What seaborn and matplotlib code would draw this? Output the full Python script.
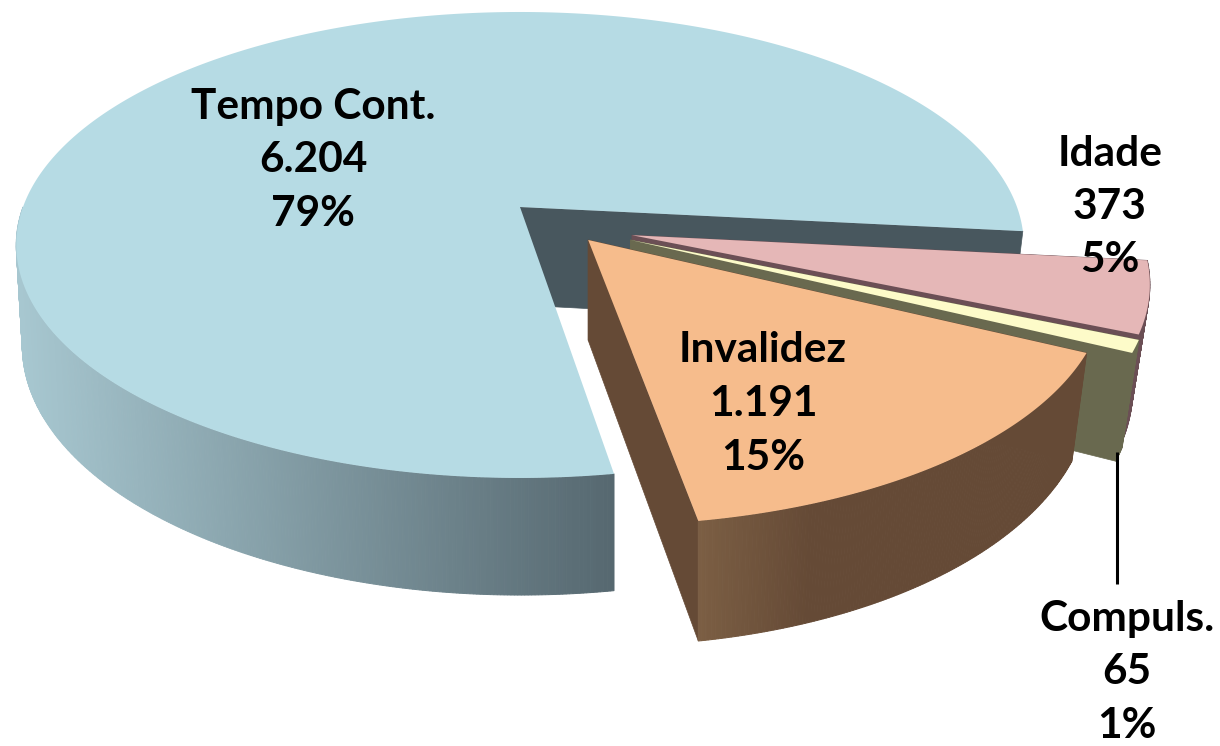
import numpy as np
import matplotlib
matplotlib.use("Agg")
import matplotlib.pyplot as plt
import seaborn as sns
from matplotlib.colors import to_rgb

# data
categories = ["Tempo Cont.", "Invalidez", "Compuls.", "Idade"]
values = [6204, 1191, 65, 373]

# style
top_colors = ["#b6dbe4", "#f6bc8c", "#fdfbc9", "#e5b7b7"]
face_colors = ["#48575e", "#654a36", "#69694f", "#6b4f55"]
wall_left = ["#a8c8d1", "#7c5f44", "#69694f", "#6b4f55"]
wall_right = ["#566870", "#654a36", "#69694f", "#6b4f55"]
# explosion of each slice on the disc plane (u right, v toward viewer)
explode = [(0.0, 0.0), (0.134, 0.142), (0.217, 0.142), (0.221, 0.122)]
label_xy = [(313, 160), (763, 404), (1127, 672), (1110, 207)]

sns.set_theme(style="white")
plt.rcParams["font.family"] = ["Lato", "DejaVu Sans"]

# camera of the tilted disc
X0, Y0, A, B, K, DEPTH = 520, 207, 497, 226.8, 0.163, 98
CONV_LEFT, CONV_RIGHT, RIGHT_FROM = 0.012, 0.038, 700
START = -6.0


def project(u, v, z=0.0):
    w = 1 - K * v
    x = X0 + A * u / w
    y = Y0 + B * v / w + DEPTH * z / w
    if x < X0:
        x -= (x - X0) * CONV_LEFT * z
    elif x > RIGHT_FROM:
        x -= (x - RIGHT_FROM) * CONV_RIGHT * z
    return x, y


fig, ax = plt.subplots(figsize=(12.2, 7.46), dpi=100)
fig.subplots_adjust(0, 0, 1, 1)
ax.set_xlim(0, 1220)
ax.set_ylim(746, 0)
ax.axis("off")

total = sum(values)
sweeps = [v / total * 360 for v in values]
# Tempo runs counter-clockwise from START, the others follow it round the circle
spans = [(START, START + sweeps[0])]
a = START + sweeps[0] - 360
for s in sweeps[1:]:
    spans.append((a, a + s))
    a += s


def mix(c1, c2, t):
    c1, c2 = np.array(to_rgb(c1)), np.array(to_rgb(c2))
    return tuple(c1 + (c2 - c1) * np.clip(t, 0, 1))


def draw_slice(i, zorder):
    a0, a1 = spans[i]
    du, dv = explode[i]
    th = np.radians(np.linspace(a0, a1, max(int(abs(a1 - a0) * 3), 12)))
    us, vs = du + np.cos(th), dv - np.sin(th)

    def face(angle):
        t = np.radians(angle)
        u, v = du + np.cos(t), dv - np.sin(t)
        p = [project(du, dv), project(u, v), project(u, v, 1), project(du, dv, 1)]
        ax.fill(*zip(*p), color=face_colors[i], lw=0.5, zorder=zorder)

    face(a0)
    if i != 0:
        face(a1)
    # outer wall with a horizontal shading
    xs_top = [project(u, v)[0] for u, v in zip(us, vs)]
    lo, hi = (14, 612) if i == 0 else (695, 810)
    for k in range(len(th) - 1):
        if vs[k] < 0 and vs[k + 1] < 0:
            continue
        if i == 0 and us[k] > 0.5:
            continue
        p = [project(us[k], vs[k]), project(us[k + 1], vs[k + 1]),
             project(us[k + 1], vs[k + 1], 1), project(us[k], vs[k], 1)]
        t = (xs_top[k] - lo) / (hi - lo)
        c = mix(wall_left[i], wall_right[i], t)
        ax.fill(*zip(*p), color=c, lw=0.7, zorder=zorder + 1)
    # top surface
    top = [project(du, dv)] + [project(u, v) for u, v in zip(us, vs)]
    ax.fill(*zip(*top), color=top_colors[i], lw=0, zorder=zorder + 2)


for order, i in enumerate([0, 3, 2, 1]):
    draw_slice(i, 10 * (order + 1))

# leader line for the small slice
ax.plot([1117, 1117], [452, 584], color="black", lw=2.2, zorder=60, solid_capstyle="butt")

# labels
for name, val, (x, y) in zip(categories, values, label_xy):
    txt = f"{name}\n{val:,}".replace(",", ".") + f"\n{val / total * 100:.0f}%"
    ax.text(x, y, txt, ha="center", va="center", fontsize=30.5, fontweight="bold",
            color="black", linespacing=1.5, zorder=70)

fig.savefig("out.png", dpi=100)
